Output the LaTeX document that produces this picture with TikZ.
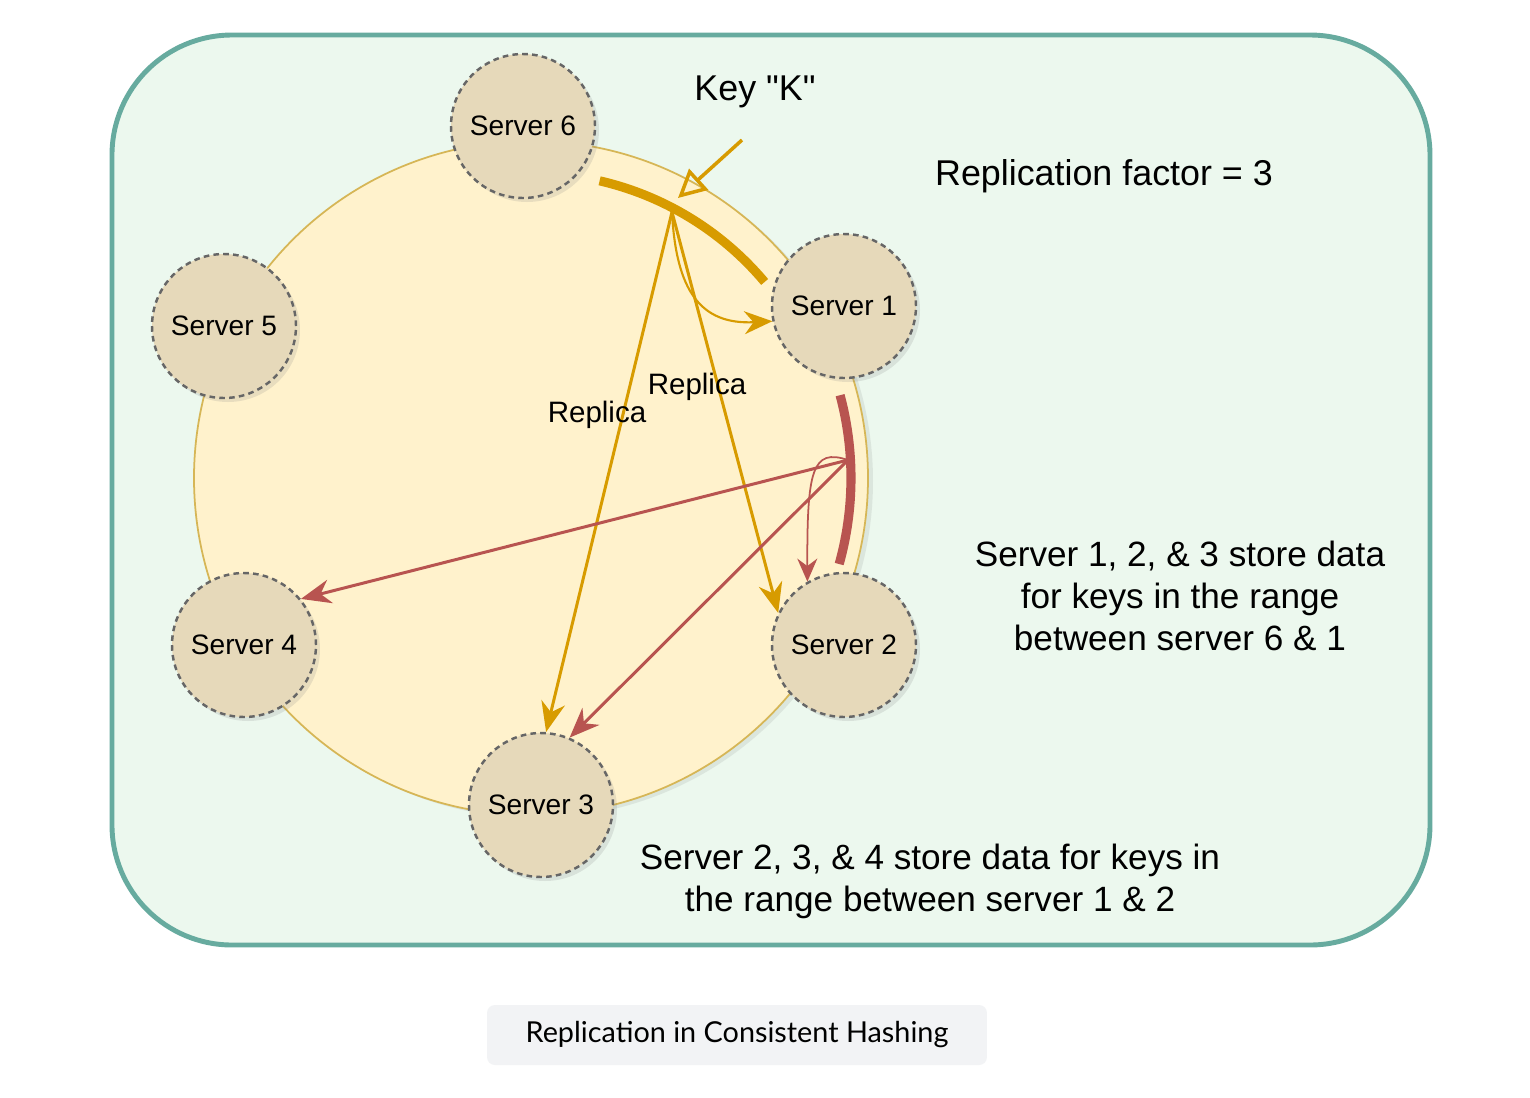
\documentclass[tikz,border=0pt]{standalone}
\usepackage{fontspec}
\setmainfont{Liberation Sans}[Ligatures=TeXOff]
\newfontfamily\capfont{Lato}
\usetikzlibrary{arrows.meta,shadows}
\definecolor{frameline}{HTML}{67AB9F}
\definecolor{framefill}{HTML}{ECF8EE}
\definecolor{ringfill}{HTML}{FFF2CC}
\definecolor{ringline}{HTML}{D6B656}
\definecolor{srvfill}{HTML}{E6D9BA}
\definecolor{keyorange}{HTML}{D79B00}
\definecolor{rangered}{HTML}{B85450}
\definecolor{capfill}{HTML}{F2F3F5}
\tikzset{
  server/.style={circle,draw=black!60,dash pattern=on 1.6pt off 1.2pt,line width=0.7pt,
    fill=srvfill,minimum size=14.4mm,inner sep=0pt,font=\fontsize{8}{9.6}\selectfont,
    drop shadow={opacity=0.18,shadow xshift=0.4mm,shadow yshift=-0.4mm}},
  note/.style={inner sep=0pt,font=\fontsize{10}{12}\selectfont},
  replica/.style={inner sep=0pt,font=\fontsize{8.4}{10}\selectfont},
  copyline/.style={keyorange,line width=0.85pt,-{Stealth[length=3mm,width=2.4mm]}},
  copycurve/.style={keyorange,line width=0.6pt,-{Stealth[length=2.8mm,width=2.3mm]}},
  rangeline/.style={rangered,line width=0.85pt,-{Stealth[length=3mm,width=2.4mm]}},
  rangecurve/.style={rangered,line width=0.5pt,-{Stealth[length=2.3mm,width=2mm]}}
}
\begin{document}
\begin{tikzpicture}[x=0.1mm,y=-0.1mm]
  \path[fill=white,use as bounding box] (0,0) rectangle (1530,1098);
  \draw[frameline,fill=framefill,line width=1.4pt,rounded corners=12mm] (112,35) rectangle (1430,945);
  \draw[ringline,fill=ringfill,line width=0.5pt,drop shadow={opacity=0.15,shadow xshift=0.5mm,shadow yshift=-0.3mm}]
    (531,478) circle[radius=337];
  \draw[keyorange,line width=2.6pt] (531,478) ++(-77:305) arc[start angle=-77,end angle=-40,radius=305];
  \draw[rangered,line width=2.6pt] (531,478) ++(-15:320) arc[start angle=-15,end angle=15.6,radius=320];

  \node[server] (s6) at (523,126) {Server 6};
  \node[server] (s1) at (844,306) {Server 1};
  \node[server] (s5) at (224,326) {Server 5};
  \node[server] (s4) at (244,645) {Server 4};
  \node[server] (s2) at (844,645) {Server 2};
  \node[server] (s3) at (541,805) {Server 3};

  \coordinate (k) at (672,212);
  \coordinate (r) at (848,460);
  \coordinate (kin) at (742,140);
  \coordinate (kend) at (678,198);

  \draw[keyorange,line width=1pt,-{Triangle[open,length=2.8mm,width=2.8mm]}] (kin) -- (kend);
  \draw[copyline] (k) -- (s3.86);
  \draw[copyline] (k) -- (s2.154);
  \draw[copycurve] (k) .. controls (676,290) and (700,325) .. (s1.192);
  \draw[rangeline] (r) -- (s4.39);
  \draw[rangeline] (r) -- (s3.67);
  \draw[rangecurve] (r) .. controls (812,448) and (807,470) .. (s2.120);

  \node[replica] (rep3) at (597,415) {Replica};
  \node[replica] (rep2) at (697,387) {Replica};

  \node[note,font=\fontsize{10.2}{12}\selectfont] (key) at (755,92) {Key "K"};
  \node[note,font=\fontsize{10.2}{12}\selectfont] (factor) at (1104,176) {Replication factor = 3};
  \node[note,align=center] (range61) at (1180,596)
    {Server 1, 2, \& 3 store data\\for keys in the range\\between server 6 \& 1};
  \node[note,align=center] (range12) at (930,881)
    {Server 2, 3, \& 4 store data for keys in\\the range between server 1 \& 2};

  \node[fill=capfill,rounded corners=0.8mm,minimum width=50mm,minimum height=6mm,
    font=\capfont\fontsize{8.2}{10}\selectfont] (caption) at (737,1035) {Replication in Consistent Hashing};
\end{tikzpicture}
\end{document}
